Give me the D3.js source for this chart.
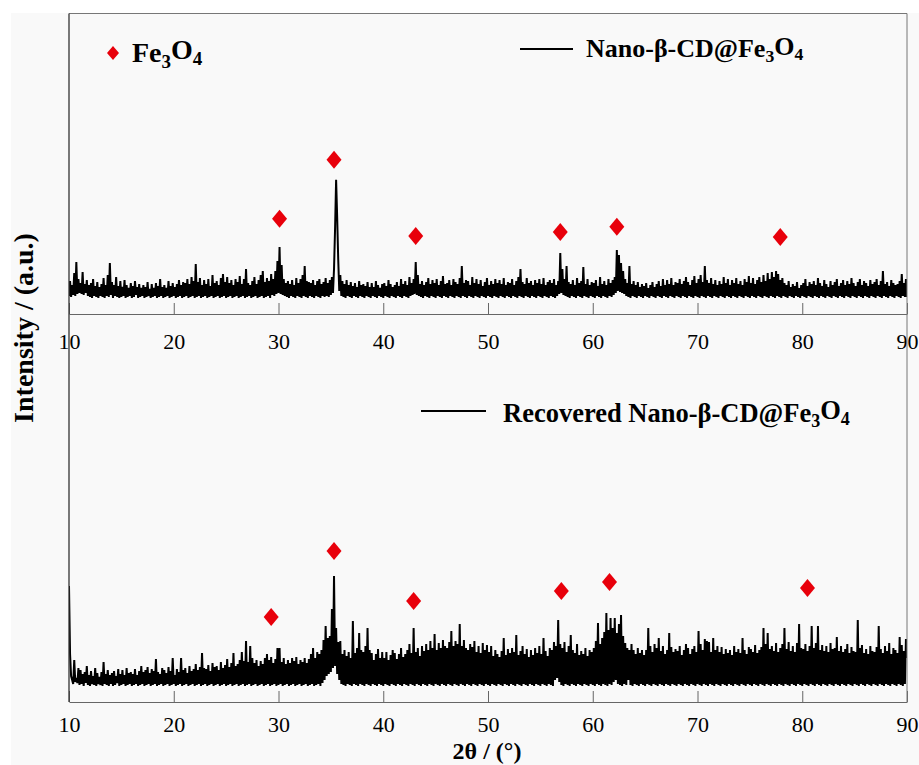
<!DOCTYPE html>
<head>
  <meta charset="utf-8">
  <title>XRD Nano-β-CD@Fe3O4</title>
  <style>
    body { margin: 0; background: #fff; }
    svg { display: block; }
  </style>
  <script src="https://cdn.jsdelivr.net/npm/d3@7"></script>
</head>
<body>
  <script>
    // 2theta grid: 10.0 .. 90.0 in 0.1 steps
    var twoThetaStart = 10, twoThetaStep = 0.1;
    var xTicks = [10, 20, 30, 40, 50, 60, 70, 80, 90];

    // Nano-β-CD@Fe3O4 (arbitrary units)
    var topIntensity = [
      3,18,2,14,4,26,3,37,5,20, 6,16,5,27,4,15,6,19,3,14, 2,16,1,20,3,13,2,17,1,12,
      3,15,2,21,1,14,3,24,2,36, 4,17,1,14,3,22,2,13,1,18, 2,12,3,19,1,14,2,11,3,16,
      1,13,2,18,4,12,1,15,2,11, 3,14,1,12,2,17,3,10,1,15, 2,11,3,16,1,13,2,20,3,12,
      1,14,2,11,3,18,1,13,2,16, 3,12,1,15,2,19,3,14,1,17, 2,16,3,20,1,15,2,22,3,18,
      1,35,2,17,3,21,1,14,2,19, 3,15,1,20,2,13,3,24,1,16, 2,18,3,14,1,21,2,25,3,17,
      1,22,2,16,3,19,1,14,2,20, 3,17,1,23,2,15,3,20,1,30, 2,16,3,14,1,18,2,22,3,15,
      1,19,2,24,3,28,1,17,2,21, 3,18,1,25,4,20,3,28,5,38, 6,52,5,34,4,20,3,16,2,18,
      1,15,3,19,2,14,1,21,3,16, 2,20,1,24,3,33,2,18,1,17, 3,16,2,19,1,14,3,18,2,20,
      1,15,3,17,2,21,3,16,2,19, 4,22,6,30,70,119,82,40,8,24, 3,18,2,15,1,19,3,14,2,17,
      1,13,3,16,2,12,1,18,3,14, 2,15,1,13,3,17,2,12,1,16, 3,12,2,18,1,14,3,11,2,15,
      1,16,3,13,2,19,1,15,3,12, 2,14,1,17,3,13,2,20,1,15, 3,18,2,14,1,22,3,16,4,20,
      5,37,4,24,3,15,2,18,1,14, 3,17,2,21,1,15,3,19,2,16, 1,20,3,14,2,18,1,23,3,15,
      2,16,1,19,3,14,2,20,1,17, 3,15,2,21,1,33,3,16,2,19, 1,18,3,14,2,22,1,16,3,20,
      2,15,1,19,3,13,2,17,1,21, 3,14,2,18,1,15,3,20,2,16, 1,19,3,15,2,21,1,14,3,17,
      2,16,1,20,3,14,2,18,1,22, 3,30,2,17,1,15,3,21,2,16, 1,18,3,14,2,19,1,16,3,20,
      2,15,1,21,3,14,2,17,1,19, 3,16,2,20,1,14,3,18,5,46, 6,30,4,20,3,33,2,17,1,15,
      3,19,2,14,1,21,3,16,2,18, 1,32,3,15,2,20,1,14,3,17, 2,16,1,19,3,13,2,22,1,15,
      3,18,2,14,1,20,3,16,2,19, 4,22,6,49,8,44,7,36,6,28, 5,20,3,16,2,33,1,15,3,18,
      2,14,1,17,3,12,2,15,1,13, 3,16,2,11,1,14,3,17,2,12, 1,15,3,18,2,13,1,20,3,14,
      2,19,1,15,3,21,2,14,1,17, 3,16,2,20,1,15,3,18,2,22, 1,17,3,14,2,19,1,23,3,16,
      2,20,1,24,3,17,2,33,1,19, 3,16,2,21,1,15,3,19,2,14, 1,18,3,15,2,22,1,16,3,20,
      2,14,1,19,3,16,2,21,1,15, 3,18,2,14,1,20,3,17,2,23, 1,16,3,21,2,15,1,19,3,22,
      2,17,1,24,3,18,2,26,1,20, 3,27,2,22,1,28,3,25,2,19, 1,21,3,16,2,14,1,18,3,12,
      2,15,1,13,3,17,2,11,1,14, 3,16,2,20,1,13,3,17,2,15, 1,18,3,14,2,21,1,16,3,13,
      2,19,1,15,3,12,2,18,1,14, 3,17,2,20,1,13,3,16,2,19, 1,14,3,18,2,15,1,21,3,16,
      2,13,1,17,3,20,2,14,1,18, 3,16,2,13,1,19,3,15,2,17, 1,20,3,14,2,18,1,28,3,15,
      2,17,1,13,3,19,2,16,1,14, 3,15,2,18,1,25,3,16,2,20, 2
    ];

    // Recovered Nano-β-CD@Fe3O4
    var bottomIntensity = [
      102,34,12,8,4,28,6,10,5,20, 3,18,4,14,2,16,5,22,3,13, 2,17,4,12,3,20,2,15,4,11,
      3,16,2,26,4,14,3,18,2,13, 4,15,2,17,3,12,5,19,2,14, 3,18,4,13,2,20,3,15,4,16,
      2,14,3,19,4,13,2,17,3,22, 4,16,2,18,3,21,4,15,2,19, 3,17,4,29,2,16,3,14,4,20,
      2,18,3,15,4,21,2,17,3,30, 4,13,2,19,3,16,4,30,2,18, 3,20,4,15,2,22,3,17,4,19,
      2,24,3,18,4,21,2,35,3,20, 4,19,2,23,3,17,4,25,2,21, 3,22,4,18,2,26,3,20,4,23,
      2,29,3,21,4,25,2,35,3,22, 4,24,2,28,3,36,4,27,2,47, 3,26,4,42,2,30,3,25,4,28,
      2,22,3,27,4,24,2,30,3,34, 4,28,2,31,3,25,4,29,2,40, 3,40,4,26,2,30,3,24,4,28,
      2,25,3,30,4,27,2,31,3,24, 4,28,2,26,3,30,4,25,2,29, 3,34,4,40,2,30,3,36,4,34,
      2,38,5,48,8,62,12,50,14,52, 16,79,20,112,22,60,14,46,8,47, 4,34,3,38,2,32,4,36,3,30,
      2,67,4,35,3,40,2,55,4,38, 3,36,2,42,4,60,3,38,2,35, 4,28,3,34,2,39,4,30,3,36,
      2,30,4,36,3,28,2,33,4,38, 3,35,2,29,4,34,3,40,2,31, 4,34,3,38,2,44,4,35,3,60,
      2,36,4,40,3,32,2,42,4,37, 3,44,2,38,4,47,3,40,2,54, 4,38,3,45,2,40,4,48,3,42,
      2,40,4,46,3,57,2,42,4,47, 3,44,2,64,4,42,3,48,2,40, 4,38,3,44,2,41,4,47,3,36,
      2,42,4,35,3,45,2,38,4,43, 3,36,2,42,4,32,3,38,2,34, 4,31,3,37,2,50,4,33,3,39,
      2,35,4,40,3,36,2,53,4,33, 3,37,2,42,4,34,3,39,2,31, 4,38,3,33,2,40,4,35,3,42,
      2,34,4,50,3,37,2,32,4,40, 3,38,2,46,8,42,10,68,6,44, 3,40,2,46,4,36,3,42,2,53,
      4,38,3,35,2,44,4,33,3,37, 2,34,4,40,3,32,2,38,4,36, 3,40,2,47,4,65,3,44,2,50,
      4,56,3,75,2,58,4,70,3,60, 6,70,8,55,4,64,3,73,2,52, 4,45,3,40,8,38,3,44,2,38,
      4,34,3,40,2,35,4,38,3,33, 2,38,4,60,3,42,2,36,4,44, 3,40,2,50,4,37,3,42,2,34,
      4,38,3,55,2,41,4,36,3,39, 2,37,4,42,3,33,2,38,4,44, 3,40,2,34,4,39,3,42,2,36,
      4,57,3,44,2,38,4,49,3,47, 2,46,4,36,3,50,2,38,4,42, 3,36,2,41,4,34,3,39,2,35,
      4,38,3,33,2,42,4,36,3,39, 2,35,4,50,3,38,2,34,4,41, 3,39,2,36,4,43,3,35,2,38,
      4,41,3,60,2,44,4,55,3,39, 2,42,4,37,3,45,2,36,4,40, 3,44,2,60,4,39,3,46,2,37,
      4,42,3,36,2,45,4,64,3,40, 2,39,4,44,3,37,2,42,4,62, 3,40,2,45,4,62,3,38,2,43,
      4,37,3,42,2,36,4,45,3,39, 2,40,4,51,3,37,2,42,4,36, 3,39,2,44,4,35,3,41,2,37,
      4,36,3,68,2,40,4,43,3,35, 2,39,4,34,3,42,2,37,4,36, 3,41,2,62,4,39,3,35,2,42,
      4,37,3,45,2,34,4,40,3,38, 2,35,4,51,3,43,2,37,4,49, 30
    ];

    // Fe3O4 reflection markers (position, height above baseline)
    var topPeakPos = [30.1, 35.3, 43.1, 56.9, 62.3, 77.9];
    var topPeakLevel = [80, 139, 63, 67, 72, 62];
    var bottomPeakPos = [29.3, 35.3, 42.9, 57.0, 61.6, 80.5];
    var bottomPeakLevel = [71, 137, 87, 97, 106, 100];

    var width = 919, height = 765;
    var plotLeft = 69, plotRight = 907, plotTop = 13.5, plotMid = 314, plotBottom = 702;

    var svg = d3.select("body").append("svg")
      .attr("width", width)
      .attr("height", height);

    svg.append("rect")
      .attr("x", 11).attr("y", 13)
      .attr("width", width - 11).attr("height", height - 13)
      .attr("fill", "#f9f9f9");

    var xScale = d3.scaleLinear().domain([10, 90]).range([plotLeft, plotRight]);
    var yTop = d3.scaleLinear().domain([0, 285]).range([299, plotTop]);
    var yBottom = d3.scaleLinear().domain([0, 374]).range([688, plotMid]);

    function series(arr) {
      return arr.map(function (v, i) {
        return {x: twoThetaStart + i * twoThetaStep, y: v};
      });
    }

    svg.append("clipPath").attr("id", "clip")
      .append("rect")
      .attr("x", plotLeft).attr("y", plotTop)
      .attr("width", plotRight - plotLeft).attr("height", plotBottom - plotTop);

    var lineTop = d3.line().x(d => xScale(d.x)).y(d => yTop(d.y));
    var lineBottom = d3.line().x(d => xScale(d.x)).y(d => yBottom(d.y));

    svg.append("path")
      .datum(series(topIntensity))
      .attr("clip-path", "url(#clip)")
      .attr("fill", "none")
      .attr("stroke", "#000")
      .attr("stroke-width", 2)
      .attr("d", lineTop);

    svg.append("path")
      .datum(series(bottomIntensity))
      .attr("clip-path", "url(#clip)")
      .attr("fill", "none")
      .attr("stroke", "#000")
      .attr("stroke-width", 2)
      .attr("d", lineBottom);

    function diamond(cx, cy, w, h) {
      return "M" + cx + "," + (cy - h / 2) + "L" + (cx + w / 2) + "," + cy +
             "L" + cx + "," + (cy + h / 2) + "L" + (cx - w / 2) + "," + cy + "Z";
    }

    svg.append("g").selectAll("path")
      .data(topPeakPos)
      .enter().append("path")
      .attr("fill", "#e8000b")
      .attr("d", (d, i) => diamond(xScale(d), yTop(topPeakLevel[i]), 15, 18));

    svg.append("g").selectAll("path")
      .data(bottomPeakPos)
      .enter().append("path")
      .attr("fill", "#e8000b")
      .attr("d", (d, i) => diamond(xScale(d), yBottom(bottomPeakLevel[i]), 15, 18));

    // axes
    var serif = "'Liberation Serif', 'DejaVu Serif', serif";

    function styleAxis(g) {
      g.attr("font-family", serif).attr("font-size", 22);
      g.select(".domain").attr("stroke", "#666");
      g.selectAll(".tick line").attr("stroke", "#666");
      g.selectAll(".tick text").attr("fill", "#000");
    }

    svg.append("g")
      .attr("transform", "translate(0," + plotMid + ")")
      .call(d3.axisBottom(xScale).tickValues(xTicks).tickSizeInner(-11).tickSizeOuter(0).tickPadding(19))
      .call(styleAxis);

    svg.append("g")
      .attr("transform", "translate(0," + plotBottom + ")")
      .call(d3.axisBottom(xScale).tickValues(xTicks).tickSizeInner(-11).tickSizeOuter(0).tickPadding(14))
      .call(styleAxis);

    // frame
    svg.append("line").attr("x1", plotLeft).attr("x2", plotRight).attr("y1", plotTop).attr("y2", plotTop)
      .attr("stroke", "#777");
    svg.append("line").attr("x1", plotRight).attr("x2", plotRight).attr("y1", plotTop).attr("y2", plotBottom)
      .attr("stroke", "#777");
    svg.append("line").attr("x1", plotLeft).attr("x2", plotLeft).attr("y1", plotTop).attr("y2", plotBottom)
      .attr("stroke", "#333").attr("stroke-width", 1.3);

    function formula(text, prefix) {
      text.append("tspan").text(prefix + "Fe");
      text.append("tspan").attr("dy", "0.3em").attr("font-size", "0.68em").text("3");
      text.append("tspan").attr("dy", "-0.3em").text("O");
      text.append("tspan").attr("dy", "0.3em").attr("font-size", "0.68em").text("4");
    }

    // legends
    svg.append("path").attr("fill", "#e8000b").attr("d", diamond(113, 53, 12, 14));
    svg.append("text")
      .attr("x", 132).attr("y", 62)
      .style("font-family", serif).style("font-weight", "bold").style("font-size", "28px")
      .call(formula, "");

    svg.append("line").attr("x1", 520).attr("x2", 573).attr("y1", 49).attr("y2", 49)
      .attr("stroke", "#000").attr("stroke-width", 2);
    svg.append("text")
      .attr("x", 586).attr("y", 57)
      .style("font-family", serif).style("font-weight", "bold").style("font-size", "26px")
      .call(formula, "Nano-β-CD@");

    svg.append("line").attr("x1", 421).attr("x2", 486).attr("y1", 411).attr("y2", 411)
      .attr("stroke", "#000").attr("stroke-width", 2);
    svg.append("text")
      .attr("x", 503).attr("y", 422)
      .style("font-family", serif).style("font-weight", "bold").style("font-size", "26.5px")
      .call(formula, "Recovered Nano-β-CD@");

    // axis titles
    svg.append("text")
      .attr("x", 487).attr("y", 759)
      .attr("text-anchor", "middle")
      .style("font-family", serif).style("font-weight", "bold").style("font-size", "24px")
      .text("2θ / (°)");

    svg.append("text")
      .attr("transform", "translate(33,328) rotate(-90)")
      .attr("text-anchor", "middle")
      .style("font-family", serif).style("font-weight", "bold").style("font-size", "28px")
      .text("Intensity / (a.u.)");
  </script>
</body>
